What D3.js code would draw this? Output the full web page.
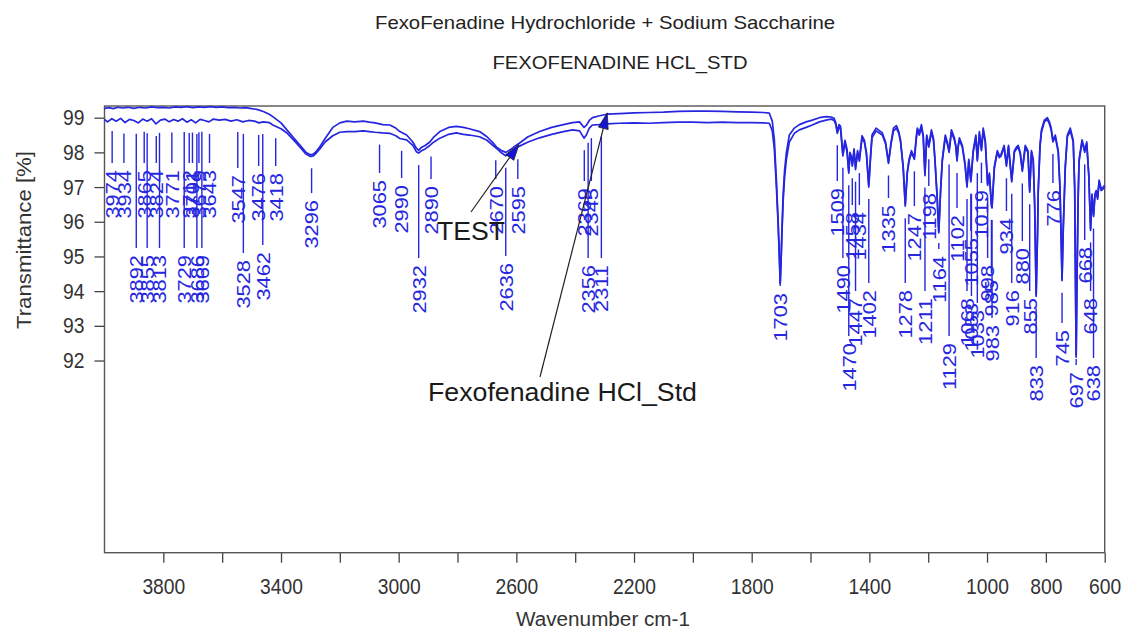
<!DOCTYPE html>
<html>
<head>
<meta charset="utf-8">
<script src="https://cdn.jsdelivr.net/npm/d3@7/dist/d3.min.js"></script>
<style>
  body { margin: 0; background: #ffffff; }
  svg { display: block; font-family: "Liberation Sans", Arial, sans-serif; }
</style>
</head>
<body>
<svg id="chart" width="1124" height="632"></svg>
<script>

//------------------------------------------------------------------------------
//
// Data
//
//------------------------------------------------------------------------------

var titleLines = ["FexoFenadine Hydrochloride + Sodium Saccharine", "FEXOFENADINE HCL_STD"];

// [wavenumber, transmittance %]
var stdSpectrum = [
  [4000,99.27],[3985,99.29],[3970,99.26],[3955,99.3],[3940,99.28],[3920,99.3],[3900,99.27],[3880,99.3],
  [3860,99.28],[3840,99.31],[3820,99.29],[3800,99.3],[3780,99.28],[3760,99.31],[3740,99.3],[3720,99.32],
  [3700,99.29],[3680,99.31],[3660,99.3],[3640,99.32],[3620,99.3],[3600,99.31],[3580,99.29],[3560,99.3],
  [3540,99.28],[3520,99.29],[3500,99.26],[3482,99.24],[3460,99.18],[3440,99.1],[3428,99.03],[3400,98.85],
  [3380,98.65],[3360,98.45],[3336,98.21],[3315,98.0],[3300,97.93],[3290,97.95],[3280,98.03],[3268,98.16],
  [3250,98.4],[3224,98.72],[3200,98.85],[3176,98.9],[3150,98.88],[3120,98.9],[3100,98.87],[3080,98.85],
  [3054,98.8],[3030,98.79],[3010,98.7],[2996,98.6],[2973,98.5],[2952,98.3],[2940,98.12],[2932,98.06],
  [2922,98.15],[2910,98.2],[2894,98.3],[2880,98.45],[2860,98.6],[2830,98.72],[2804,98.75],[2780,98.72],
  [2760,98.68],[2725,98.6],[2700,98.45],[2680,98.28],[2668,98.16],[2650,98.05],[2636,98.0],[2620,98.08],
  [2605,98.18],[2589,98.27],[2560,98.45],[2521,98.6],[2480,98.72],[2440,98.8],[2409,98.86],[2385,98.88],
  [2370,98.72],[2362,98.78],[2352,98.92],[2341,99.0],[2320,99.05],[2293,99.1],[2250,99.12],[2200,99.14],
  [2150,99.15],[2100,99.16],[2050,99.18],[2000,99.19],[1950,99.19],[1900,99.18],[1850,99.17],[1800,99.16],
  [1760,99.15],[1740,99.13],[1730,98.9],[1723,98.36],[1716,97.2],[1710,96.0],[1706,95.0],[1703,94.23],
  [1700,94.9],[1697,95.8],[1693,96.8],[1688,97.5],[1682,98.0],[1672,98.5],[1655,98.7],[1638,98.8],
  [1615,98.88],[1594,98.93],[1570,99.0],[1547,99.03],[1530,99.02],[1520,98.98],[1514,98.85],[1509,98.6],
  [1503,98.8],[1498,98.75],[1490,97.95],[1483,98.35],[1476,98.1],[1470,97.45],[1466,98.0],[1462,97.9],
  [1458,97.65],[1452,98.1],[1447,97.58],[1440,98.05],[1434,97.8],[1425,98.48],[1417,98.35],[1410,98.0],
  [1402,97.05],[1396,97.9],[1391,98.5],[1377,98.7],[1365,98.62],[1356,98.56],[1345,98.3],[1335,97.72],
  [1326,98.3],[1318,98.7],[1308,98.77],[1300,98.6],[1294,98.35],[1285,97.6],[1278,96.5],[1271,97.45],
  [1265,97.8],[1257,98.05],[1252,97.95],[1247,97.85],[1240,98.5],[1237,98.7],[1230,98.58],[1223,98.8],
  [1217,98.5],[1211,97.38],[1205,98.5],[1198,98.2],[1189,98.65],[1182,98.4],[1177,97.8],[1170,96.8],
  [1164,95.72],[1158,96.9],[1152,97.8],[1142,98.5],[1135,98.3],[1129,98.05],[1121,98.65],[1111,98.42],
  [1106,98.2],[1102,97.8],[1098,98.2],[1094,98.42],[1084,98.2],[1075,97.7],[1068,97.05],[1062,97.8],
  [1055,97.2],[1047,98.05],[1038,98.5],[1033,97.8],[1026,98.6],[1019,98.1],[1013,98.7],[1006,98.35],
  [998,97.1],[992,97.4],[985,96.5],[983,96.45],[975,97.6],[965,98.05],[958,97.9],[952,97.95],
  [942,98.2],[934,97.65],[927,98.2],[916,97.2],[907,98.05],[900,98.15],[894,98.2],[887,98.0],
  [880,97.5],[870,98.2],[861,98.05],[855,96.9],[849,98.05],[843,97.8],[838,96.5],[833,93.9],
  [828,95.8],[826,96.9],[820,98.2],[815,98.65],[805,98.93],[795,99.0],[788,98.88],[782,98.7],
  [776,98.35],[768,98.5],[758,98.05],[752,97.0],[748,95.5],[745,94.35],[741,95.8],[734,97.6],
  [727,98.5],[717,98.7],[707,98.35],[702,97.0],[699,94.0],[697,92.15],[694,94.5],[690,96.8],
  [687,97.8],[677,98.36],[672,98.2],[668,98.05],[661,98.3],[654,97.35],[648,95.8],[643,96.8],
  [638,96.2],[633,96.8],[629,96.9],[624,96.7],[619,97.2],[612,96.95],[605,97.0],[600,97.05]
];

var testSpectrum = [
  [4000,98.95],[3990,98.88],[3975,98.97],[3960,98.9],[3945,98.98],[3930,98.86],[3915,98.95],[3900,98.92],
  [3885,98.85],[3870,98.96],[3855,98.9],[3840,98.97],[3825,98.82],[3810,98.93],[3795,98.96],[3780,98.88],
  [3765,98.95],[3750,98.9],[3735,98.97],[3720,98.87],[3705,98.94],[3690,98.85],[3675,98.95],[3660,98.92],
  [3645,98.88],[3630,98.96],[3610,98.93],[3590,98.95],[3570,98.9],[3550,98.94],[3530,98.88],[3510,98.92],
  [3490,98.9],[3475,98.85],[3460,98.88],[3440,98.86],[3428,98.79],[3400,98.68],[3380,98.56],[3360,98.38],
  [3336,98.16],[3315,97.95],[3300,97.88],[3290,97.9],[3280,97.98],[3268,98.1],[3250,98.3],[3224,98.48],
  [3200,98.58],[3176,98.6],[3150,98.6],[3120,98.62],[3100,98.6],[3080,98.58],[3054,98.56],[3030,98.55],
  [3010,98.48],[2996,98.4],[2973,98.36],[2952,98.2],[2940,98.02],[2932,97.98],[2922,98.05],[2910,98.1],
  [2894,98.2],[2880,98.3],[2860,98.41],[2830,98.52],[2804,98.56],[2780,98.52],[2760,98.5],[2725,98.45],
  [2700,98.35],[2680,98.2],[2668,98.12],[2650,97.98],[2636,97.9],[2620,97.98],[2605,98.1],[2589,98.18],
  [2560,98.3],[2521,98.42],[2480,98.52],[2440,98.6],[2409,98.65],[2385,98.62],[2370,98.41],[2362,98.5],
  [2352,98.7],[2341,98.79],[2320,98.8],[2293,98.82],[2250,98.84],[2200,98.85],[2150,98.84],[2100,98.86],
  [2050,98.87],[2000,98.87],[1950,98.86],[1900,98.87],[1850,98.86],[1800,98.86],[1760,98.85],[1740,98.84],
  [1730,98.62],[1723,98.1],[1716,97.0],[1710,95.9],[1706,95.0],[1703,94.23],[1700,94.9],[1697,95.7],
  [1693,96.6],[1688,97.3],[1682,97.8],[1672,98.3],[1655,98.55],[1638,98.65],[1615,98.72],[1594,98.79],
  [1570,98.88],[1547,98.93],[1530,98.96],[1520,98.92],[1514,98.8],[1509,98.55],[1503,98.72],[1498,98.68],
  [1490,97.9],[1483,98.28],[1476,98.02],[1470,97.4],[1466,97.95],[1462,97.85],[1458,97.6],[1452,98.02],
  [1447,97.5],[1440,97.98],[1434,97.75],[1425,98.4],[1417,98.3],[1410,97.95],[1402,97.0],[1396,97.85],
  [1391,98.42],[1377,98.62],[1365,98.55],[1356,98.5],[1345,98.25],[1335,97.68],[1326,98.25],[1318,98.62],
  [1308,98.7],[1300,98.55],[1294,98.3],[1285,97.55],[1278,96.45],[1271,97.4],[1265,97.75],[1257,97.98],
  [1252,97.9],[1247,97.8],[1240,98.42],[1237,98.62],[1230,98.5],[1223,98.72],[1217,98.45],[1211,97.33],
  [1205,98.45],[1198,98.15],[1189,98.58],[1182,98.35],[1177,97.75],[1170,96.75],[1164,95.68],[1158,96.85],
  [1152,97.75],[1142,98.42],[1135,98.25],[1129,98.0],[1121,98.58],[1111,98.36],[1106,98.15],[1102,97.75],
  [1098,98.15],[1094,98.36],[1084,98.15],[1075,97.65],[1068,97.0],[1062,97.75],[1055,97.15],[1047,98.0],
  [1038,98.44],[1033,97.75],[1026,98.52],[1019,98.05],[1013,98.62],[1006,98.3],[998,97.05],[992,97.35],
  [985,96.45],[983,96.4],[975,97.55],[965,98.0],[958,97.85],[952,97.9],[942,98.15],[934,97.6],
  [927,98.15],[916,97.15],[907,98.0],[900,98.1],[894,98.15],[887,97.95],[880,97.45],[870,98.15],
  [861,98.0],[855,96.85],[849,98.0],[843,97.75],[838,96.45],[833,93.85],[828,95.75],[826,96.85],
  [820,98.15],[815,98.58],[805,98.88],[795,98.95],[788,98.82],[782,98.65],[776,98.3],[768,98.45],
  [758,98.0],[752,96.95],[748,95.45],[745,94.3],[741,95.75],[734,97.55],[727,98.45],[717,98.62],
  [707,98.3],[702,96.95],[699,93.95],[697,92.1],[694,94.45],[690,96.75],[687,97.75],[677,98.3],
  [672,98.15],[668,98.0],[661,98.25],[654,97.3],[648,95.75],[643,96.75],[638,96.15],[633,96.75],
  [629,96.85],[624,96.65],[619,97.15],[612,96.9],[605,96.95],[600,97.0]
];

var peakWavenumbers = [
  3974, 3934, 3892, 3865, 3855, 3824, 3813, 3771, 3729, 3712, 3701, 3686, 3679, 3669, 3643,
  3547, 3528, 3476, 3462, 3418, 3296, 3065, 2990, 2932, 2890, 2670, 2636, 2595,
  2369, 2356, 2345, 2311, 1703, 1509, 1490, 1470, 1458, 1447, 1434, 1402, 1335, 1278,
  1247, 1211, 1198, 1164, 1129, 1102, 1068, 1055, 1053, 1033, 1019, 998, 985, 983,
  934, 916, 880, 855, 833, 776, 745, 697, 668, 648, 638
];

var xTickValues = [3800, 3600, 3400, 3200, 3000, 2800, 2600, 2400, 2200, 2000, 1800, 1600, 1400, 1200, 1000, 800, 600];
var xTickLabels = [3800, 3400, 3000, 2600, 2200, 1800, 1400, 1000, 800, 600];
var yTickValues = [92, 93, 94, 95, 96, 97, 98, 99];

var annotations = [
  {text: "TEST", target: [2591, 98.23]},
  {text: "Fexofenadine HCl_Std", target: [2291, 99.14]}
];


//------------------------------------------------------------------------------
//
// Layout
//
//------------------------------------------------------------------------------

var frame = {left: 104.5, right: 1104.7, top: 106, bottom: 552.7};
var blue = "#2626e0";
var ink = "#333333";
var stretch = 1.15;   // text in the source is taller than it is wide

// top edge (px) of each rotated peak label
var labelTop = {
  3974:170, 3934:170, 3892:255, 3865:170, 3855:255, 3824:170, 3813:255, 3771:170, 3729:255,
  3712:170, 3701:170, 3686:255, 3679:170, 3669:255, 3643:170, 3547:175, 3528:260, 3476:173,
  3462:252, 3418:173, 3296:200, 3065:180, 2990:185, 2932:265, 2890:186, 2670:186, 2636:263,
  2595:186, 2369:188, 2356:265, 2345:188, 2311:265, 1703:293, 1509:188, 1490:265, 1470:343,
  1458:212, 1447:298, 1434:212, 1402:290, 1335:205, 1278:290, 1247:213, 1211:298, 1198:193,
  1164:256, 1129:343, 1102:215, 1068:298, 1055:238, 1053:303, 1033:310, 1019:190, 998:265,
  985:280, 983:325, 934:218, 916:290, 880:248, 855:298, 833:365, 776:190, 745:330, 697:372,
  668:247, 648:298, 638:365
};

// text boxes for the two annotations: left x, baseline, width, and arrow tail
var annotationBoxes = [
  {x: 437, y: 240, width: 68, tail: [471, 212]},
  {x: 428, y: 401, width: 269, tail: [540, 377]}
];


//------------------------------------------------------------------------------
//
// Chart
//
//------------------------------------------------------------------------------

var svg = d3.select("#chart");

var x = d3.scaleLinear().domain([4000, 600]).range([frame.left, frame.right]);
var y = d3.scaleLinear().domain([86.46, 99.337]).range([frame.bottom, frame.top]);

//--------------------------------------
// Titles
//--------------------------------------

svg.append("text")
  .attr("x", 605).attr("y", 29)
  .attr("text-anchor", "middle")
  .attr("font-size", 18.5)
  .attr("textLength", 460).attr("lengthAdjust", "spacingAndGlyphs")
  .style("fill", "#222")
  .text(titleLines[0]);

svg.append("text")
  .attr("x", 620).attr("y", 69)
  .attr("text-anchor", "middle")
  .attr("font-size", 18.5)
  .attr("textLength", 255).attr("lengthAdjust", "spacingAndGlyphs")
  .style("fill", "#222")
  .text(titleLines[1]);

//--------------------------------------
// Axes
//--------------------------------------

var xAxis = d3.axisBottom(x)
  .tickValues(xTickValues)
  .tickSize(10)
  .tickFormat(function(d) { return xTickLabels.indexOf(d) >= 0 ? d : ""; });

var gx = svg.append("g")
  .attr("transform", "translate(0," + frame.bottom + ")")
  .call(xAxis);
gx.select(".domain").remove();
gx.selectAll("line").attr("stroke", "#444").attr("stroke-width", 1.3);
gx.selectAll("text")
  .attr("y", 22).attr("dy", "0.71em")
  .attr("transform", "scale(1," + stretch + ")")
  .attr("font-size", 19.3)
  .attr("font-family", "Liberation Sans, Arial, sans-serif")
  .style("fill", ink);

var yAxis = d3.axisLeft(y)
  .tickValues(yTickValues)
  .tickSize(10)
  .tickPadding(10)
  .tickFormat(d3.format("d"));

var gy = svg.append("g")
  .attr("transform", "translate(" + frame.left + ",0)")
  .call(yAxis);
gy.select(".domain").remove();
gy.selectAll("line").attr("stroke", "#444").attr("stroke-width", 1.3);
gy.selectAll("text")
  .attr("transform", "scale(1," + stretch + ")")
  .attr("dy", "0.32em")
  .attr("font-size", 19.3)
  .attr("font-family", "Liberation Sans, Arial, sans-serif")
  .style("fill", ink);

svg.append("rect")
  .attr("x", frame.left).attr("y", frame.top)
  .attr("width", frame.right - frame.left)
  .attr("height", frame.bottom - frame.top)
  .attr("fill", "none")
  .attr("stroke", "#555")
  .attr("stroke-width", 1.4);

svg.append("text")
  .attr("transform", "translate(31," + 240 + ") rotate(-90)")
  .attr("text-anchor", "middle")
  .attr("font-size", 20)
  .attr("textLength", 178).attr("lengthAdjust", "spacingAndGlyphs")
  .style("fill", ink)
  .text("Transmittance [%]");

svg.append("text")
  .attr("x", 603).attr("y", 626)
  .attr("text-anchor", "middle")
  .attr("font-size", 20)
  .attr("textLength", 174).attr("lengthAdjust", "spacingAndGlyphs")
  .style("fill", ink)
  .text("Wavenumber cm-1");

//--------------------------------------
// Spectra
//--------------------------------------

var line = d3.line()
  .x(function(d) { return x(d[0]); })
  .y(function(d) { return y(d[1]); });

[stdSpectrum, testSpectrum].forEach(function(series) {
  svg.append("path")
    .datum(series)
    .attr("d", line)
    .attr("fill", "none")
    .attr("stroke", blue)
    .attr("stroke-width", 1.7)
    .attr("stroke-linejoin", "round");
});

//--------------------------------------
// Peak labels
//--------------------------------------

function valueAt(series, w) {
  for (var i = 1; i < series.length; i++) {
    var a = series[i - 1], b = series[i];
    if (w <= a[0] && w >= b[0]) {
      return a[1] + (b[1] - a[1]) * (a[0] - w) / (a[0] - b[0]);
    }
  }
  return series[series.length - 1][1];
}

function lowestAt(w) {
  var t = Math.min(valueAt(stdSpectrum, w), valueAt(testSpectrum, w));
  [stdSpectrum, testSpectrum].forEach(function(series) {
    series.forEach(function(p) { if (Math.abs(p[0] - w) <= 3) t = Math.min(t, p[1]); });
  });
  return t;
}

var peaks = svg.append("g").attr("class", "peaks")
  .selectAll("g")
  .data(peakWavenumbers)
  .enter().append("g");

peaks.append("line")
  .attr("x1", function(d) { return x(d); })
  .attr("x2", function(d) { return x(d); })
  .attr("y1", function(d) {
    var top = y(lowestAt(d)) + 12, bottom = labelTop[d] - 7;
    return Math.min(top, bottom - 6);
  })
  .attr("y2", function(d) { return labelTop[d] - 7; })
  .attr("stroke", blue)
  .attr("stroke-width", 1.4);

peaks.append("text")
  .attr("transform", function(d) {
    return "translate(" + x(d) + "," + labelTop[d] + ") scale(1," + stretch + ") rotate(-90)";
  })
  .attr("text-anchor", "end")
  .attr("dy", "0.36em")
  .attr("font-size", 19)
  .style("fill", blue)
  .text(function(d) { return d; });

//--------------------------------------
// Annotations
//--------------------------------------

annotations.forEach(function(a, i) {
  var box = annotationBoxes[i];
  var tx = x(a.target[0]), ty = y(a.target[1]);
  var dx = tx - box.tail[0], dy = ty - box.tail[1];
  var len = Math.sqrt(dx * dx + dy * dy), ux = dx / len, uy = dy / len;
  var head = 16, half = 5;
  var bx = tx - ux * head, by = ty - uy * head;

  svg.append("line")
    .attr("x1", box.tail[0]).attr("y1", box.tail[1])
    .attr("x2", bx).attr("y2", by)
    .attr("stroke", "#222")
    .attr("stroke-width", 1.2);

  svg.append("path")
    .attr("d", "M" + tx + "," + ty +
               "L" + (bx - uy * half) + "," + (by + ux * half) +
               "L" + (bx + uy * half) + "," + (by - ux * half) + "Z")
    .attr("fill", "#1414d8")
    .attr("stroke", "#222")
    .attr("stroke-width", 0.8);

  svg.append("text")
    .attr("x", box.x).attr("y", box.y)
    .attr("font-size", 26)
    .attr("textLength", box.width).attr("lengthAdjust", "spacingAndGlyphs")
    .style("fill", "#1a1a1a")
    .text(a.text);
});

</script>
</body>
</html>
